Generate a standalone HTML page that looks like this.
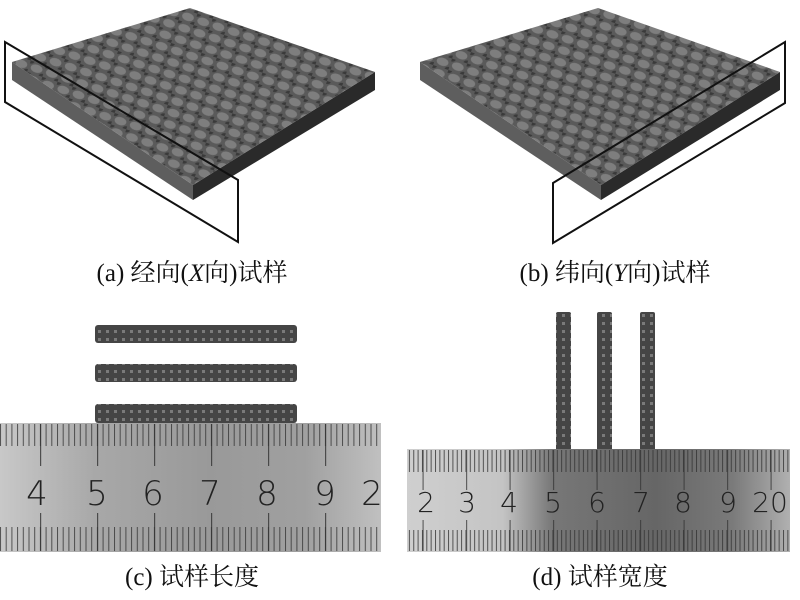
<!DOCTYPE html>
<html><head><meta charset="utf-8"><style>
body{margin:0;background:#fff}
svg{display:block}
.cap{font-family:"Liberation Serif","Noto Serif CJK SC",serif;font-size:25px;fill:#111}
.num{font-family:"DejaVu Sans","Liberation Sans",sans-serif;fill:#222;font-weight:300}
</style></head><body>
<svg width="800" height="600" viewBox="0 0 800 600" xmlns="http://www.w3.org/2000/svg">
<defs>
<pattern id="weave" width="16" height="12" patternUnits="userSpaceOnUse" patternTransform="rotate(18)">
<rect width="16" height="12" fill="#5a5a5a"/>
<ellipse cx="8" cy="6" rx="6" ry="4" fill="#7e7e7e"/>
<ellipse cx="0" cy="0" rx="4" ry="3" fill="#3a3a3a"/>
<ellipse cx="16" cy="12" rx="4" ry="3" fill="#3a3a3a"/>
</pattern>
<pattern id="barpat" width="8" height="8" patternUnits="userSpaceOnUse">
<rect width="8" height="8" fill="#454545"/><rect x="2" y="2" width="3" height="3" fill="#7a7a7a"/>
</pattern>
<linearGradient id="rc" x1="0" x2="1" y1="0" y2="0">
<stop offset="0" stop-color="#c8c8c8"/><stop offset="0.25" stop-color="#a8a8a8"/>
<stop offset="0.55" stop-color="#999"/><stop offset="0.8" stop-color="#a0a0a0"/><stop offset="1" stop-color="#c0c0c0"/>
</linearGradient>
<linearGradient id="rd" x1="0" x2="1" y1="0" y2="0">
<stop offset="0" stop-color="#cfcfcf"/><stop offset="0.25" stop-color="#c4c4c4"/>
<stop offset="0.38" stop-color="#777"/><stop offset="0.65" stop-color="#666"/><stop offset="0.85" stop-color="#7a7a7a"/><stop offset="1" stop-color="#b0b0b0"/>
</linearGradient>
<pattern id="ticksC" x="0" y="0" width="5.7" height="10" patternUnits="userSpaceOnUse">
<rect x="0" width="1" height="10" fill="#333"/></pattern>
<pattern id="ticksD" x="0" y="0" width="4.35" height="10" patternUnits="userSpaceOnUse">
<rect x="0" width="1" height="10" fill="#333"/></pattern>
<pattern id="majC" x="97" y="0" width="57" height="60" patternUnits="userSpaceOnUse">
<rect x="0" width="1.2" height="60" fill="#333"/></pattern>
<pattern id="majD" x="553" y="0" width="43.5" height="60" patternUnits="userSpaceOnUse">
<rect x="0" width="1.2" height="60" fill="#333"/></pattern>
</defs>

<!-- panel a -->
<polygon points="12,62 193,185 193,200 12,80" fill="#5e5e5e"/>
<polygon points="193,185 375,72 375,90 193,200" fill="#2a2a2a"/>
<polygon points="12,62 190,8 375,72 193,185" fill="url(#weave)"/>
<polygon points="5,42 238,180 238,242 5,102" fill="none" stroke="#111" stroke-width="2"/>
<text class="cap" x="192" y="281" text-anchor="middle">(a)  经向(<tspan font-style="italic">X</tspan>向)试样</text>

<!-- panel b -->
<polygon points="420,62 601,185 601,200 420,80" fill="#5e5e5e"/>
<polygon points="601,185 780,72 780,90 601,200" fill="#2a2a2a"/>
<polygon points="420,62 598,8 780,72 601,185" fill="url(#weave)"/>
<polygon points="553,183 785,42 785,103 553,243" fill="none" stroke="#111" stroke-width="2"/>
<text class="cap" x="615" y="281" text-anchor="middle">(b)  纬向(<tspan font-style="italic">Y</tspan>向)试样</text>

<!-- panel c -->
<rect x="95" y="325" width="202" height="18" rx="3" fill="url(#barpat)"/>
<rect x="95" y="364" width="202" height="18" rx="3" fill="url(#barpat)"/>
<rect x="95" y="404" width="202" height="19" rx="3" fill="url(#barpat)"/>
<rect x="0" y="423" width="381" height="129" fill="url(#rc)"/>
<rect x="0" y="424" width="381" height="22" fill="url(#ticksC)" opacity="0.8"/>
<rect x="0" y="424" width="381" height="42" fill="url(#majC)" opacity="0.8"/>
<rect x="0" y="527" width="381" height="24" fill="url(#ticksC)" opacity="0.8"/>
<rect x="0" y="513" width="381" height="38" fill="url(#majC)" opacity="0.8"/>
<g class="num" font-size="34" text-anchor="middle">
<text x="37" y="505">4</text><text x="97" y="505">5</text><text x="153" y="505">6</text>
<text x="210" y="505">7</text><text x="267" y="505">8</text><text x="325" y="505">9</text><text x="372" y="505">2</text>
</g>
<text class="cap" x="192" y="585" text-anchor="middle">(c)  试样长度</text>

<!-- panel d -->
<rect x="556" y="312" width="15" height="140" rx="2" fill="url(#barpat)"/>
<rect x="597" y="312" width="15" height="140" rx="2" fill="url(#barpat)"/>
<rect x="640" y="312" width="15" height="140" rx="2" fill="url(#barpat)"/>
<rect x="407" y="449" width="383" height="103" fill="url(#rd)"/>
<rect x="407" y="450" width="383" height="22" fill="url(#ticksD)" opacity="0.8"/>
<rect x="407" y="450" width="383" height="40" fill="url(#majD)" opacity="0.7"/>
<rect x="407" y="530" width="383" height="21" fill="url(#ticksD)" opacity="0.8"/>
<rect x="407" y="520" width="383" height="31" fill="url(#majD)" opacity="0.7"/>
<g class="num" font-size="28" text-anchor="middle">
<text x="426" y="512">2</text><text x="467" y="512">3</text><text x="509" y="512">4</text>
<text x="553" y="512">5</text><text x="597" y="512">6</text><text x="641" y="512">7</text>
<text x="683" y="512">8</text><text x="728" y="512">9</text><text x="770" y="512">20</text>
</g>
<text class="cap" x="600" y="585" text-anchor="middle">(d)  试样宽度</text>
</svg>
</body></html>
